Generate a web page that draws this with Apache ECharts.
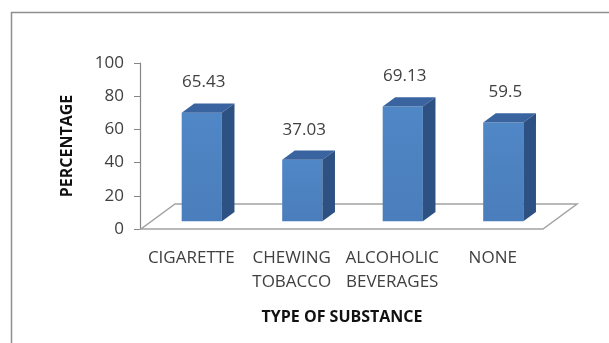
<!DOCTYPE html>
<html>
<head>
<meta charset="utf-8">
<title>Type of substance</title>
<script src="https://cdn.jsdelivr.net/npm/echarts@6/dist/echarts.min.js"></script>
<style>
  html, body { margin: 0; padding: 0; background: #fff; }
  #chart { width: 609px; height: 343px; }
</style>
</head>
<body>
<div id="chart"></div>
<script>
// data
var categories = ['CIGARETTE', 'CHEWING\nTOBACCO', 'ALCOHOLIC\nBEVERAGES', 'NONE'];
var percentages = [65.43, 37.03, 69.13, 59.5];
var yMin = 0, yMax = 100, yStep = 20;

// fake 3d look (excel style)
var depthX = 34, depthY = -25;    // floor depth
var barFront = 0.31, barBack = 0.68; // where the bar sits inside the floor depth
var font = '"Open Sans", "Liberation Sans", sans-serif';

var myChart = echarts.init(document.getElementById('chart'));

function renderFloor(params, api) {
  var cs = params.coordSys;
  var y0 = api.coord([0, 0])[1];
  var xl = cs.x, xr = cs.x + cs.width;
  return {
    type: 'polygon',
    shape: { points: [[xl, y0], [xr, y0], [xr + depthX, y0 + depthY], [xl + depthX, y0 + depthY]] },
    style: { fill: '#fff', stroke: '#a3a3a3', lineWidth: 1.5 }
  };
}

function renderBar(params, api) {
  var i = api.value(0), v = api.value(1);
  var base = api.coord([i, 0]);
  var top = api.coord([i, v]);
  var w = api.size([1, 0])[0] * 0.4;
  var ox = depthX * barFront, oy = depthY * barFront;
  var sx = depthX * (barBack - barFront), sy = depthY * (barBack - barFront);
  var x0 = base[0] - w / 2 + ox, x1 = x0 + w;
  var yb = base[1] + oy, yt = top[1] + oy;
  return {
    type: 'group',
    children: [
      {
        type: 'rect',
        shape: { x: x0, y: yt, width: w, height: yb - yt },
        style: {
          fill: new echarts.graphic.LinearGradient(0, 0, 0, 1, [
            { offset: 0, color: '#5087c6' },
            { offset: 1, color: '#4a7dbb' }
          ])
        }
      },
      {
        type: 'polygon',
        shape: { points: [[x0, yt], [x1, yt], [x1 + sx, yt + sy], [x0 + sx, yt + sy]] },
        style: { fill: '#3a64a0' }
      },
      {
        type: 'polygon',
        shape: { points: [[x1, yt], [x1 + sx, yt + sy], [x1 + sx, yb + sy], [x1, yb]] },
        style: { fill: '#2d5183' }
      },
      {
        type: 'text',
        style: {
          text: String(v),
          x: x0 + w / 2 + 2,
          y: yt - 30,
          align: 'center',
          verticalAlign: 'middle',
          fill: '#404040',
          font: '17px ' + font
        }
      }
    ]
  };
}

var option = {
  animation: false,
  graphic: [
    {
      type: 'rect',
      shape: { x: 11.5, y: 12.5, width: 700, height: 500 },
      style: { fill: 'none', stroke: '#8e8e8e', lineWidth: 1.5 },
      silent: true
    }
  ],
  grid: { left: 141, top: 63, right: 66, bottom: 114 },
  xAxis: {
    type: 'category',
    data: categories,
    axisLine: { show: false },
    axisTick: { show: false },
    axisLabel: {
      margin: 17,
      fontSize: 17,
      lineHeight: 24,
      color: '#404040',
      fontFamily: font,
      interval: 0
    },
    name: 'TYPE OF SUBSTANCE',
    nameLocation: 'middle',
    nameGap: 80,
    nameTextStyle: { fontSize: 16, fontWeight: 'bold', color: '#111', fontFamily: font }
  },
  yAxis: {
    type: 'value',
    min: yMin,
    max: yMax,
    interval: yStep,
    offset: 1,
    axisLine: { show: true, lineStyle: { color: '#868686', width: 1.2 } },
    axisTick: { show: true, length: 6, lineStyle: { color: '#868686' } },
    splitLine: { show: false },
    axisLabel: { margin: 16, fontSize: 17, color: '#404040', fontFamily: font },
    name: 'PERCENTAGE',
    nameLocation: 'middle',
    nameGap: 65,
    nameTextStyle: { fontSize: 16, fontWeight: 'bold', color: '#111', fontFamily: font }
  },
  series: [
    {
      type: 'custom',
      renderItem: renderFloor,
      data: [[0, 0]],
      clip: false,
      silent: true,
      z: 1
    },
    {
      type: 'custom',
      renderItem: renderBar,
      data: percentages.map(function (v, i) { return [i, v]; }),
      encode: { x: 0, y: 1 },
      clip: false,
      z: 2
    }
  ]
};

myChart.setOption(option);
window.addEventListener('resize', function () {
  myChart.resize();
});
</script>
</body>
</html>
